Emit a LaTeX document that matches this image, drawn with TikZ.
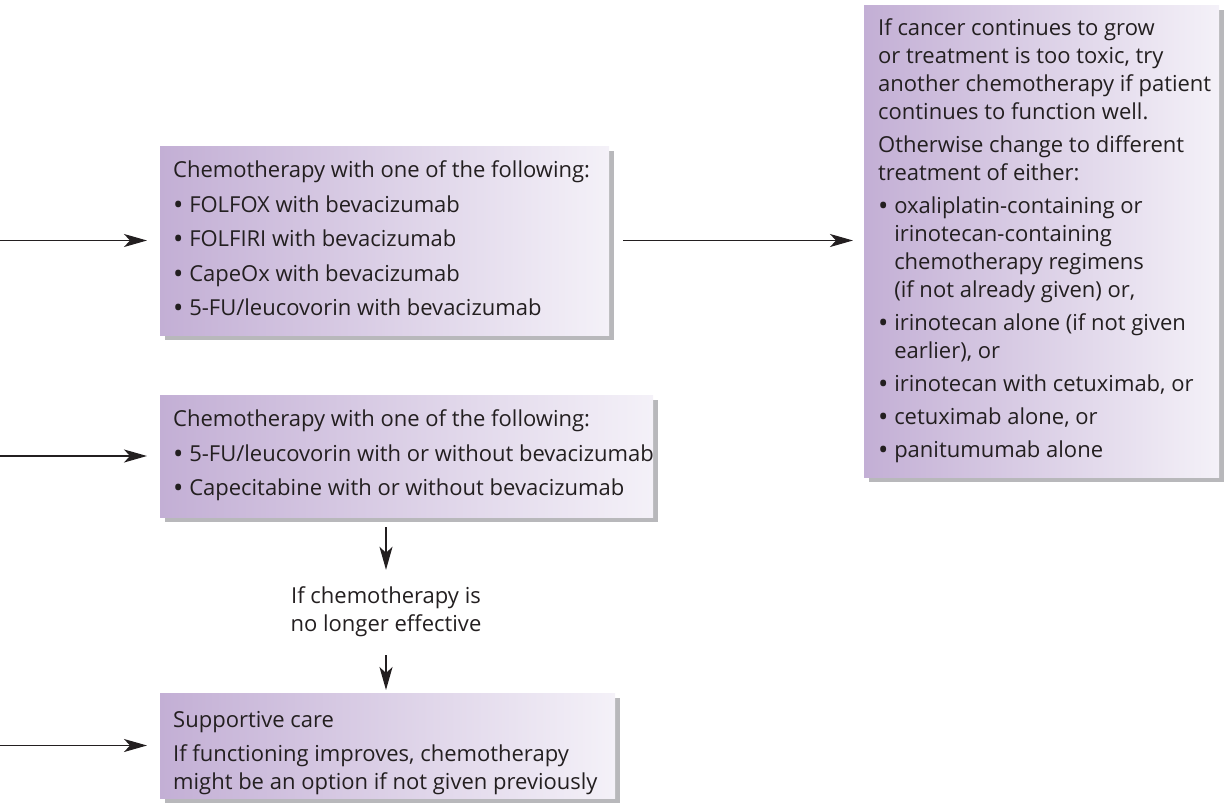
\documentclass[tikz,border=0pt]{standalone}
\usepackage{fontspec}
\setmainfont{Open Sans}
\usetikzlibrary{arrows.meta,shadows,calc}
\definecolor{boxleft}{HTML}{C3AFD5}
\definecolor{boxright}{HTML}{F4F1F8}
\definecolor{shadowgray}{HTML}{B8B8BB}
\definecolor{ink}{HTML}{231F20}
% fixed first-line height, so every text block starts at a known baseline
\newcommand{\firstline}{\rule{0pt}{17.5pt}}
% list bullet, a little larger than the font's own, centred on the x-height
\newcommand{\itm}{\raisebox{-2.2pt}{\scalebox{1.25}{\textbullet}}\ }
\newcommand{\itmgap}{\hphantom{\itm}}
\begin{document}
\begin{tikzpicture}[x=1pt,y=-1pt,
  panel/.style={rectangle, anchor=north west, inner sep=0pt, outer sep=0pt,
    left color=boxleft, right color=boxright, draw=none,
    drop shadow={shadow xshift=5pt, shadow yshift=-5pt, fill=shadowgray, opacity=1}},
  panetext/.style={anchor=north west, inner sep=0pt, align=left, text=ink,
    font=\fontsize{22}{28}\selectfont},
  note/.style={inner sep=0pt, align=center, text=ink, minimum height=76pt,
    font=\fontsize{22}{28}\selectfont},
  conn/.style={draw=ink, line width=1.4pt,
    -{Stealth[length=23pt,width=13pt,inset=6pt]}}]
\useasboundingbox (0,0) rectangle (1224,803);
\coordinate (L) at (0,0);

% treatment panels
\node[panel, minimum width=449pt, minimum height=189pt] (b1) at (160,146) {};
\node[panel, minimum width=493pt, minimum height=122pt] (b2) at (160,395) {};
\node[panel, minimum width=355pt, minimum height=472pt] (b3) at (864,5) {};
\node[panel, minimum width=455pt, minimum height=105pt] (b4) at (160,693) {};

% panel texts (first baseline 17.5pt below the anchor)
\node[panetext] (t1) at ($(b1.north west)+(13,14)$)
  {\firstline Chemotherapy with one of the following:\\[6.5pt]
   \itm FOLFOX with bevacizumab\\[6.5pt]
   \itm FOLFIRI with bevacizumab\\[6.5pt]
   \itm CapeOx with bevacizumab\\[6.5pt]
   \itm 5-FU/leucovorin with bevacizumab};
\node[panetext] (t2) at ($(b2.north west)+(13,14)$)
  {\firstline Chemotherapy with one of the following:\\[6.5pt]
   \itm 5-FU/leucovorin with or without bevacizumab\\[6.5pt]
   \itm Capecitabine with or without bevacizumab};
\node[panetext] (t3) at ($(b3.north west)+(14,12.5)$)
  {\firstline If cancer continues to grow\\
   or treatment is too toxic, try\\
   another chemotherapy if patient\\
   continues to function well.\\[5pt]
   Otherwise change to different\\
   treatment of either:\\[5pt]
   \itm oxaliplatin-containing or\\
   \itmgap irinotecan-containing\\
   \itmgap chemotherapy regimens\\
   \itmgap (if not already given) or,\\[5pt]
   \itm irinotecan alone (if not given\\
   \itmgap earlier), or\\[5pt]
   \itm irinotecan with cetuximab, or\\[5pt]
   \itm cetuximab alone, or\\[5pt]
   \itm panitumumab alone};
\node[panetext] (t4) at ($(b4.north west)+(13,16.5)$)
  {\firstline Supportive care\\[6.5pt]
   If functioning improves, chemotherapy\\
   might be an option if not given previously};

% condition between the lower panels
\node[note] (q) at (386,612) {If chemotherapy is\\no longer effective};

% connectors
\draw[conn, shorten >=13pt] (L |- b1.west) -- (b1.west);
\draw[conn, shorten >=13pt] (L |- b2.west) -- (b2.west);
\draw[conn, shorten >=13pt] (L |- b4.west) -- (b4.west);
\draw[conn, shorten <=14pt, shorten >=11pt] (b1.east) -- (b3.west |- b1.east);
\draw[conn, shorten <=10pt, shorten >=4pt] (q |- b2.south) -- (q.north);
\draw[conn, shorten <=5pt, shorten >=3pt] (q.south) -- (q |- b4.north);
\end{tikzpicture}
\end{document}
